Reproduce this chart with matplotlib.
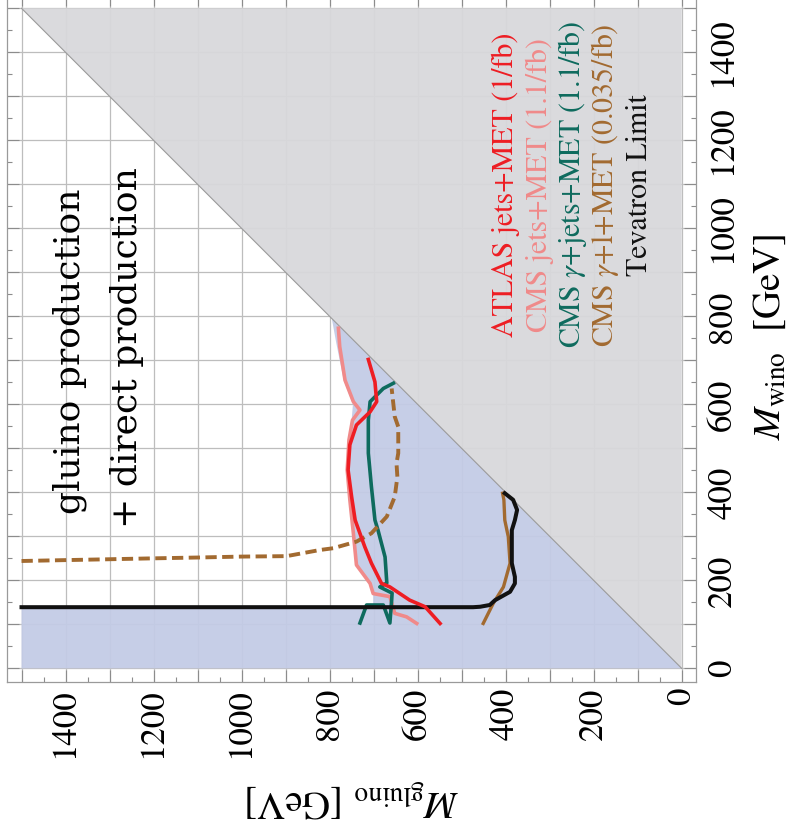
import matplotlib
matplotlib.use('Agg')
import matplotlib.pyplot as plt
from matplotlib.patches import Polygon
from matplotlib.ticker import MultipleLocator, FuncFormatter

plt.rcParams['mathtext.fontset'] = 'stix'
plt.rcParams['font.family'] = ['STIXGeneral', 'DejaVu Serif']

# ---- data: (M_gluino, M_wino) in GeV ----
atlas_g = [549, 583, 618, 663, 682, 705, 720, 742, 750, 758, 754, 739, 708, 693, 697, 712]
atlas_w = [102, 140, 155, 185, 193, 239, 276, 337, 390, 451, 508, 553, 583, 606, 651, 702]

cmsjets_g = [602, 625, 652, 663, 701, 708, 739, 746, 754, 760, 756, 748, 731, 746, 765, 777, 780]
cmsjets_w = [102, 117, 125, 163, 170, 193, 235, 307, 383, 451, 519, 564, 587, 606, 655, 731, 773]

cmsgj_g = [731, 716, 678, 663, 659, 658, 686, 670, 674, 690, 697, 705, 712, 712, 708, 697, 678, 655]
cmsgj_w = [103, 144, 144, 103, 155, 171, 185, 194, 253, 314, 337, 413, 489, 564, 606, 617, 636, 648]

cmsgl_g = [1500, 1400, 1299, 1201, 1095, 1001, 898, 822, 792, 739, 705, 670, 652, 646, 648, 644, 644, 652, 659]
cmsgl_w = [244, 246, 248, 250, 252, 254, 255, 269, 273, 288, 307, 345, 390, 435, 466, 489, 549, 572, 636]

cmsgl2_g = [451, 428, 405, 390, 394, 402, 404, 407]
cmsgl2_w = [102, 148, 185, 239, 299, 337, 383, 398]

tev_g = [1500, 474, 458, 436, 424, 390, 379, 379, 386, 386, 379, 374, 383, 402]
tev_w = [139, 139, 140, 144, 155, 174, 193, 208, 239, 314, 337, 360, 383, 398]

excl_g = [1500, 1500, 701, 701, 708, 739, 748, 756, 762, 758, 750, 747, 768, 785, 795, 0]
excl_w = [0, 139, 139, 170, 193, 235, 307, 383, 451, 519, 564, 600, 655, 740, 795, 0]

tri_g = [0, 1500, 0]
tri_w = [0, 1500, 1500]

tick_vals = [0, 200, 400, 600, 800, 1000, 1200, 1400]

legend_labels = ["ATLAS jets+MET (1/fb)", "CMS jets+MET (1.1/fb)",
                 r"CMS $\gamma$+jets+MET (1.1/fb)", r"CMS $\gamma$+l+MET (0.035/fb)",
                 "Tevatron Limit"]
legend_colors = ['#EE1D23', '#F08A8A', '#0E6B5E', '#A26A30', '#111111']

W, H = 788, 836
fig = plt.figure(figsize=(W / 100, H / 100), dpi=100)
ax = fig.add_axes([7 / W, 154 / H, 689 / W, 688 / H])
ax.set_xlim(1533, -32.5)
ax.set_ylim(-31, 1532.5)

# regions
ax.add_patch(Polygon(list(zip(tri_g, tri_w)), closed=True, facecolor=(216/255, 216/255, 219/255),
                     edgecolor='none', alpha=0.94, zorder=1))
ax.add_patch(Polygon(list(zip(excl_g, excl_w)), closed=True, facecolor=(195/255, 203/255, 230/255),
                     edgecolor='none', alpha=0.94, zorder=1))
ax.plot([tri_g[0], tri_g[1]], [tri_w[0], tri_w[1]], color='#9a9a9a', lw=0.8, zorder=2)

# curves
ax.plot(cmsjets_g, cmsjets_w, color=legend_colors[1], lw=2.6, zorder=3, solid_joinstyle='round')
ax.plot(cmsgj_g, cmsgj_w, color=legend_colors[2], lw=2.6, zorder=3, solid_joinstyle='round')
ax.plot(cmsgl_g, cmsgl_w, color=legend_colors[3], lw=2.8, ls=(0, (2.9, 1.4)), zorder=3)
ax.plot(cmsgl2_g, cmsgl2_w, color=legend_colors[3], lw=2.4, zorder=3)
ax.plot(tev_g, tev_w, color=legend_colors[4], lw=2.9, zorder=4, solid_joinstyle='round')
ax.plot(atlas_g, atlas_w, color=legend_colors[0], lw=2.6, zorder=5, solid_joinstyle='round')

# axes styling
for s in ax.spines.values():
    s.set_color('#9a9a9a')
    s.set_linewidth(0.9)
for axis in (ax.xaxis, ax.yaxis):
    axis.set_major_locator(MultipleLocator(100))
    axis.set_minor_locator(MultipleLocator(50))
    axis.set_major_formatter(FuncFormatter(
        lambda v, p: f"{int(round(v))}" if int(round(v)) in tick_vals else ""))
ax.grid(True, which='major', color='#bdbdbd', lw=0.9, zorder=0.5)
ax.set_axisbelow(True)
ax.tick_params(which='both', direction='in', top=True, bottom=True, left=True, right=True,
               color='#8c8c8c', width=0.8)
ax.tick_params(which='major', length=8.6)
ax.tick_params(which='minor', length=3.6)
ax.tick_params(axis='x', labelrotation=90, pad=4.3, labelsize=25)
ax.tick_params(axis='y', labelleft=False, labelright=True, labelrotation=90, pad=8, labelsize=25)
for t in ax.yaxis.get_major_ticks():
    t.label2.set_va('center')

def fx(x):
    return x / W

def fy(y):
    return 1 - y / H

# axis labels
fig.text(fx(780), fy(337), r"$M_{\rm wino}$  [GeV]", rotation=90, rotation_mode='anchor',
         ha='center', va='baseline', fontsize=28)
fig.text(fx(352), fy(790), r"$M_{\rm gluino}$ [GeV]", rotation=180, rotation_mode='anchor',
         ha='center', va='baseline', fontsize=28)

# annotations
fig.text(fx(80), fy(351), "gluino production", rotation=90, rotation_mode='anchor',
         ha='center', va='baseline', fontsize=26, family='DejaVu Serif')
fig.text(fx(137), fy(348), "+ direct production", rotation=90, rotation_mode='anchor',
         ha='center', va='baseline', fontsize=26, family='DejaVu Serif')

# legend
leg_x = [513, 547, 580, 613, 647]
for lbl, col, x in zip(legend_labels, legend_colors, leg_x):
    fig.text(fx(x), fy(185), lbl, rotation=90, rotation_mode='anchor', ha='center',
             va='baseline', fontsize=21.5, color=col)

fig.savefig('out.png', dpi=100)
